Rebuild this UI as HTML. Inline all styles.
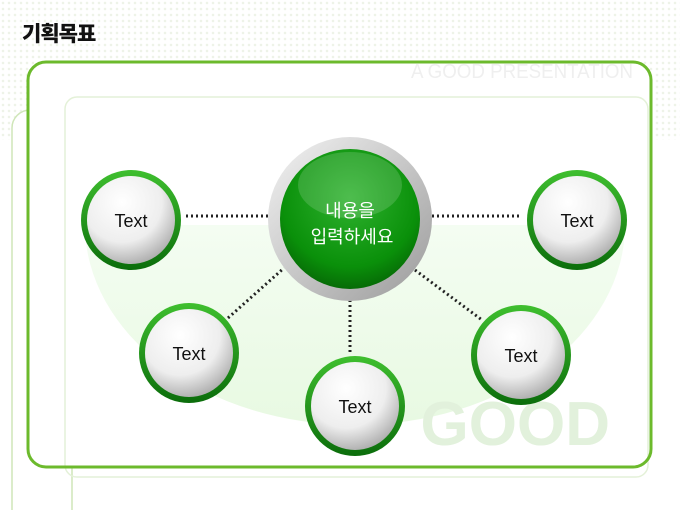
<!DOCTYPE html>
<html><head><meta charset="utf-8"><style>
body{margin:0;width:680px;height:510px;overflow:hidden;background:#fff;font-family:"Liberation Sans","Noto Sans CJK KR",sans-serif;position:relative}
.dots{position:absolute;left:0;top:0;width:680px;height:140px;background-image:radial-gradient(#eef3e8 1.2px,transparent 1.4px);background-size:6px 6px}
.t{position:absolute;left:22px;top:18px;font-size:21px;font-weight:900;color:#111;font-family:"Noto Sans CJK KR",sans-serif;letter-spacing:-1px}
</style></head><body>
<div class="dots"></div>
<div class="t">기획목표</div>
<svg width="680" height="510" style="position:absolute;left:0;top:0">
<defs>
<radialGradient id="wg" cx="40%" cy="30%" r="75%"><stop offset="0" stop-color="#fff"/><stop offset=".6" stop-color="#eee"/><stop offset="1" stop-color="#a8a8a8"/></radialGradient>
<radialGradient id="gg" cx="50%" cy="35%" r="70%"><stop offset="0" stop-color="#2fb22f"/><stop offset=".7" stop-color="#0a900a"/><stop offset="1" stop-color="#056005"/></radialGradient>
<linearGradient id="ring" x1="0" y1="0" x2="0" y2="1"><stop offset="0" stop-color="#3fbf2f"/><stop offset="1" stop-color="#0b6d0b"/></linearGradient>
<linearGradient id="gray" x1="0" y1="0" x2="1" y2="1"><stop offset="0" stop-color="#f4f4f4"/><stop offset="1" stop-color="#9a9a9a"/></linearGradient>
<linearGradient id="bg" x1="0" y1="0" x2="0" y2="1"><stop offset="0" stop-color="#f4fdf2"/><stop offset="1" stop-color="#e8f9e2"/></linearGradient>
</defs>
<rect x="12" y="110" width="60" height="420" rx="18" fill="#fff" stroke="#cfe6b8" stroke-width="1.5"/>
<rect x="28" y="62" width="623" height="405" rx="18" fill="#fff"/>
<rect x="65" y="97" width="583" height="380" rx="12" fill="none" stroke="#e4f1d8" stroke-width="1.5"/>
<path d="M85 225 A270 200 0 0 0 625 225 Z" fill="url(#bg)"/>
<text x="633" y="78" text-anchor="end" font-size="20" fill="#efefef" textLength="222" lengthAdjust="spacingAndGlyphs">A GOOD PRESENTATION</text>
<text x="610" y="445" text-anchor="end" font-size="62" font-weight="bold" fill="#e2f1dc">GOOD</text>
<rect x="28" y="62" width="623" height="405" rx="18" fill="none" stroke="#6cba2c" stroke-width="3"/>
<g stroke="#222" stroke-width="3" stroke-dasharray="2 3">
<line x1="186" y1="216" x2="268" y2="216"/><line x1="432" y1="216" x2="522" y2="216"/>
<line x1="228" y1="318" x2="284" y2="268"/><line x1="350" y1="300" x2="350" y2="352"/><line x1="415" y1="270" x2="482" y2="320"/>
</g>
<g font-size="18" text-anchor="middle" fill="#111">
<g><circle cx="131" cy="220" r="50" fill="url(#ring)"/><circle cx="131" cy="220" r="44" fill="url(#wg)"/><text x="131" y="227">Text</text></g>
<g><circle cx="577" cy="220" r="50" fill="url(#ring)"/><circle cx="577" cy="220" r="44" fill="url(#wg)"/><text x="577" y="227">Text</text></g>
<g><circle cx="189" cy="353" r="50" fill="url(#ring)"/><circle cx="189" cy="353" r="44" fill="url(#wg)"/><text x="189" y="360">Text</text></g>
<g><circle cx="521" cy="355" r="50" fill="url(#ring)"/><circle cx="521" cy="355" r="44" fill="url(#wg)"/><text x="521" y="362">Text</text></g>
<g><circle cx="355" cy="406" r="50" fill="url(#ring)"/><circle cx="355" cy="406" r="44" fill="url(#wg)"/><text x="355" y="413">Text</text></g>
</g>
<circle cx="350" cy="219" r="82" fill="url(#gray)"/>
<circle cx="350" cy="219" r="70" fill="url(#gg)"/>
<ellipse cx="350" cy="185" rx="52" ry="33" fill="#fff" opacity=".15"/>
<g font-size="18" fill="#fff" text-anchor="middle" font-family="Noto Sans CJK KR,sans-serif"><text x="350" y="217">내용을</text><text x="352" y="243">입력하세요</text></g>
</svg>
</body></html>
